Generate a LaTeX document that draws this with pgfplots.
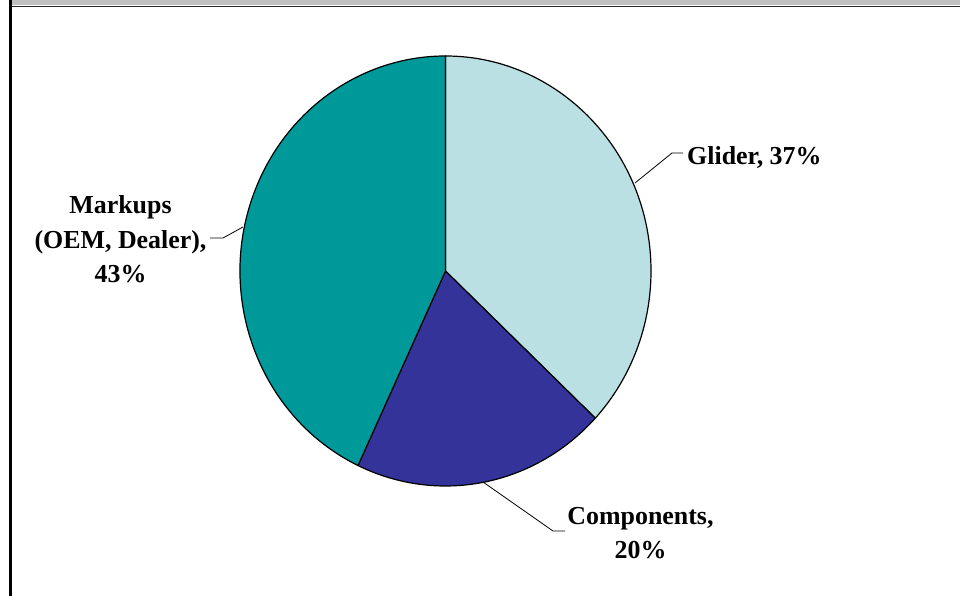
\documentclass[border=0pt]{standalone}
\usepackage{fontspec}
\setmainfont{Liberation Serif}
\usepackage{pgfplots}
\usepackage{pgfplotstable}
\pgfplotsset{compat=1.18}

\definecolor{glider}{RGB}{187,224,227}
\definecolor{components}{RGB}{51,51,153}
\definecolor{markups}{RGB}{0,153,153}
\definecolor{band}{RGB}{192,192,192}

% cost shares in percent, clockwise from 12 o'clock
\pgfplotstableread{
part       pct
Glider     37
Components 20
Markups    43
}\piedata

\pgfplotstablegetelem{0}{pct}\of\piedata \let\pctA\pgfplotsretval
\pgfplotstablegetelem{1}{pct}\of\piedata \let\pctB\pgfplotsretval
\pgfplotstablegetelem{2}{pct}\of\piedata \let\pctC\pgfplotsretval
\pgfmathsetmacro\angO{90}
\pgfmathsetmacro\angA{\angO-3.6*\pctA}
\pgfmathsetmacro\angB{\angA-3.6*\pctB}
\pgfmathsetmacro\angC{\angB-3.6*\pctC}

% pie centre and radii (the pie is a stretched circle)
\newcommand\cx{445.5}
\newcommand\cy{325}
\newcommand\rx{205.5}
\newcommand\ry{215}

\newcommand\slice[3]{%
  \filldraw[fill=#3, draw=black, line width=1.2bp, line join=round]
    (axis cs:\cx,\cy) -- (axis cs:{\cx+\rx*cos(#1)},{\cy+\ry*sin(#1)})
    arc[start angle=#1, end angle=#2, x radius=\rx bp, y radius=\ry bp] -- cycle;}

\tikzset{lbl/.style={inner sep=0pt, font=\fontsize{26}{34.5}\selectfont\bfseries}}

\begin{document}
\begin{tikzpicture}
\begin{axis}[
  x=1bp, y=1bp,
  xmin=0, xmax=960, ymin=0, ymax=596,
  scale only axis,
  hide axis,
  clip=false,
  ]
  % frame
  \fill[white] (axis cs:0,0) rectangle (axis cs:960,596);
  \fill[band] (axis cs:10,590.5) rectangle (axis cs:960,596);
  \draw[black!85, line width=1.6bp] (axis cs:10,589.6) -- (axis cs:960,589.6);
  \fill[black] (axis cs:9,0) rectangle (axis cs:11.5,596);

  % slices
  \slice{\angO}{\angA}{glider}
  \slice{\angA}{\angB}{components}
  \slice{\angB}{\angC}{markups}

  % leader lines
  \draw[line width=0.8bp] (axis cs:635,413) -- (axis cs:672,443) -- (axis cs:683,443);
  \draw[line width=0.8bp] (axis cs:243,369) -- (axis cs:223,358) -- (axis cs:210,358);
  \draw[line width=0.8bp] (axis cs:483,114) -- (axis cs:553,65) -- (axis cs:565,65);

  % labels
  \node[lbl, anchor=base west] at (axis cs:687,431) {Glider, 37\%};
  \node[lbl, align=center] at (axis cs:120.5,356.5) {Markups\\(OEM, Dealer),\\43\%};
  \node[lbl, align=center] at (axis cs:640.5,63) {Components,\\20\%};
\end{axis}
\pgfresetboundingbox
\path (current axis.south west) rectangle (current axis.north east);
\end{tikzpicture}
\end{document}
